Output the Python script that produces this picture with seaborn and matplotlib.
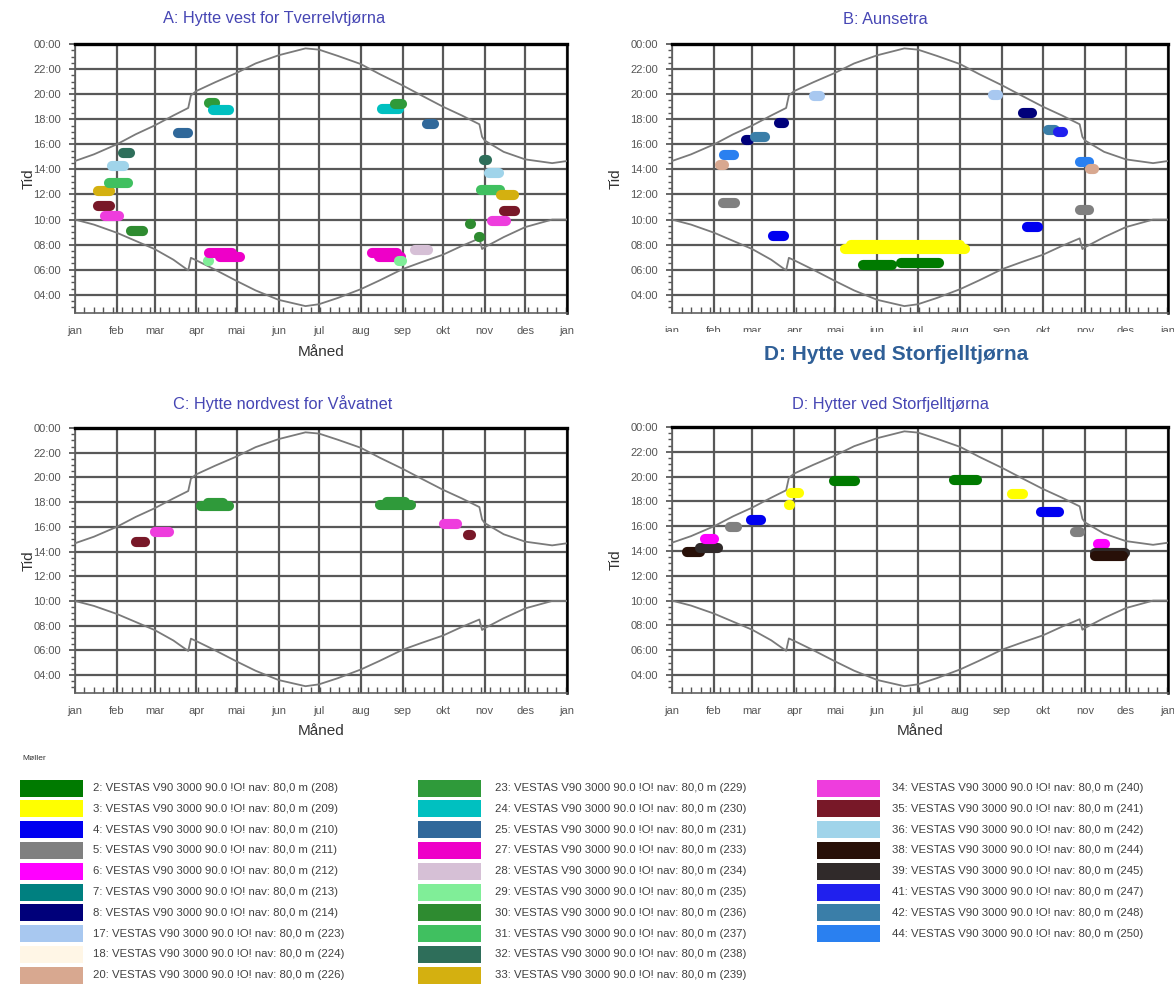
import numpy as np
import pandas as pd
import matplotlib
matplotlib.use('Agg')
import matplotlib.pyplot as plt
import seaborn as sns
from matplotlib.patches import Rectangle
from matplotlib.ticker import MultipleLocator, FuncFormatter

W, H = 1174, 984

# ── data ─────────────────────────────────────────────────────
month_names = ['jan', 'feb', 'mar', 'apr', 'mai', 'jun', 'jul',
               'aug', 'sep', 'okt', 'nov', 'des', 'jan']
month_days = [0, 31, 59, 90, 120, 151, 181, 212, 243, 273, 304, 334, 365]

# sunset / sunrise (day of year, clock hour)
sun_day      = [0, 14, 31, 45, 59, 73, 84, 86, 90, 104, 120, 134, 151, 171, 181,
                195, 212, 226, 243, 257, 273, 287, 300, 302, 304, 318, 334, 354, 365]
sunset_hour  = [14.67, 15.2, 16.0, 16.8, 17.5, 18.3, 18.9, 19.9, 20.25, 20.95, 21.7,
                22.45, 23.1, 23.65, 23.55, 23.05, 22.4, 21.6, 20.7, 19.9, 19.0, 18.3,
                17.6, 16.6, 16.3, 15.4, 14.8, 14.5, 14.67]
sunrise_hour = [10.0, 9.6, 8.95, 8.3, 7.65, 6.8, 5.95, 6.95, 6.75, 6.0, 5.1, 4.35,
                3.6, 3.1, 3.25, 3.75, 4.45, 5.15, 6.05, 6.6, 7.2, 7.9, 8.5, 7.65,
                7.8, 8.6, 9.4, 10.0, 10.0]

turbine_ids = [2, 3, 4, 5, 6, 7, 8, 17, 18, 20,
               23, 24, 25, 27, 28, 29, 30, 31, 32, 33,
               34, 35, 36, 38, 39, 41, 42, 44]
turbine_refs = [208, 209, 210, 211, 212, 213, 214, 223, 224, 226,
                229, 230, 231, 233, 234, 235, 236, 237, 238, 239,
                240, 241, 242, 244, 245, 247, 248, 250]
turbine_colors = ['#007a00', '#ffff00', '#0000f0', '#808080', '#ff00ff', '#008080',
                  '#00007a', '#a8c8f0', '#fff6e6', '#d8a890',
                  '#2f9a3a', '#00c0c0', '#30689a', '#ee00c8', '#d6c0d6', '#80ee98',
                  '#2e8b30', '#40c060', '#2e6e5a', '#d4b010',
                  '#ee3ddd', '#781828', '#a0d4ea', '#281008', '#302a2a', '#2020ee',
                  '#3a7ea8', '#2a80f0']

# shadow periods: (first day, last day, clock hour, turbine)
flicker_a = [(14, 29, 12.3, 33), (14, 29, 11.05, 35), (19, 36, 10.25, 34),
             (24, 40, 14.3, 36), (22, 43, 12.9, 31), (32, 44, 15.3, 32),
             (38, 54, 9.1, 30), (73, 87, 16.9, 25), (78, 84, 7.0, 28),
             (84, 89, 7.8, 28), (96, 107, 19.3, 23), (99, 118, 18.75, 24),
             (95, 103, 6.7, 29), (96, 120, 7.35, 27), (104, 126, 7.0, 27),
             (121, 128, 5.4, 7), (213, 220, 5.5, 7), (217, 242, 7.3, 27),
             (222, 245, 7.0, 27), (237, 246, 6.7, 29), (249, 265, 7.6, 28),
             (224, 244, 18.8, 24), (234, 246, 19.25, 23), (258, 270, 17.65, 25),
             (300, 309, 14.75, 32), (304, 318, 13.75, 36), (298, 319, 12.35, 31),
             (313, 329, 11.95, 33), (315, 330, 10.7, 35), (306, 323, 9.9, 34),
             (290, 297, 9.65, 30), (296, 304, 8.65, 30)]

flicker_b = [(35, 49, 15.15, 44), (32, 42, 14.35, 20), (34, 50, 11.3, 5),
             (51, 60, 16.35, 8), (58, 72, 16.55, 42), (75, 86, 17.7, 8),
             (84, 90, 18.75, 8), (101, 112, 19.85, 17), (71, 86, 8.7, 4),
             (124, 219, 7.65, 3), (128, 215, 7.95, 3), (137, 165, 6.36, 2),
             (165, 200, 6.5, 2), (233, 243, 19.9, 17), (255, 268, 18.5, 8),
             (273, 285, 17.18, 42), (281, 291, 16.97, 41), (258, 273, 9.44, 4),
             (297, 310, 14.6, 44), (304, 314, 14.0, 20), (294, 297, 11.82, 5),
             (297, 310, 10.8, 5)]

flicker_c = [(42, 55, 14.8, 35), (56, 73, 15.6, 34), (90, 118, 17.7, 23),
             (95, 113, 17.95, 23), (223, 253, 17.8, 23), (228, 248, 17.98, 23),
             (270, 287, 16.2, 34), (288, 297, 15.35, 35), (295, 300, 14.3, 35)]

flicker_d = [(8, 24, 13.93, 38), (17, 37, 14.25, 39), (21, 34, 14.98, 6),
             (39, 51, 15.95, 5), (55, 69, 16.54, 4), (84, 97, 18.68, 3),
             (83, 90, 17.74, 3), (116, 138, 19.62, 2), (204, 228, 19.76, 2),
             (247, 262, 18.6, 3), (268, 288, 17.15, 4), (290, 296, 16.48, 5),
             (293, 304, 15.52, 5), (310, 322, 14.6, 6), (308, 337, 13.82, 39),
             (308, 335, 13.62, 38)]

color_of = dict(zip(turbine_ids, turbine_colors))

n = len(sun_day)
sun_df = pd.DataFrame({
    'dag': sun_day * 2,
    'tid': sunset_hour + sunrise_hour,
    'kurve': ['ned'] * n + ['opp'] * n,
})

# ── figure ───────────────────────────────────────────────────
sns.set_theme(style='white')
plt.rcParams['font.family'] = ['Liberation Sans', 'DejaVu Sans']

fig = plt.figure(figsize=(W / 100, H / 100), dpi=100)
fig.patch.set_facecolor('white')


def px_axes(x0, y0, x1, y1):
    return fig.add_axes([x0 / W, 1 - y1 / H, (x1 - x0) / W, (y1 - y0) / H])


def draw_panel(ax, blobs, xlabel=True, ylab_x=-0.1):
    sns.lineplot(data=sun_df, x='dag', y='tid', units='kurve', estimator=None,
                 color='#7a7a7a', lw=1.3, ax=ax, legend=False, zorder=3)
    for d0, d1, hour, tid in blobs:
        pad = min(3.4, (d1 - d0) / 2)
        ax.plot([d0 + pad, d1 - pad], [hour, hour], color=color_of[tid], lw=7.3,
                solid_capstyle='round', zorder=4)

    ax.set_xlim(0, 365)
    ax.set_ylim(2.55, 24)
    ax.set_xticks(month_days)
    ax.set_xticklabels(month_names)
    ax.set_yticks(range(4, 25, 2))
    ax.yaxis.set_major_formatter(FuncFormatter(lambda v, p: f"{int(round(v)) % 24:02d}:00"))
    ax.xaxis.set_minor_locator(MultipleLocator(7))
    ax.yaxis.set_minor_locator(MultipleLocator(0.5))

    ax.grid(True, which='major', color='#585858', lw=1.6)
    ax.set_axisbelow(True)
    ax.tick_params(axis='x', which='both', bottom=True, direction='in',
                   labelsize=8, labelcolor='#555555', color='#555555', pad=9)
    ax.tick_params(axis='x', which='major', length=5)
    ax.tick_params(axis='x', which='minor', length=4)
    ax.tick_params(axis='y', which='both', left=True, direction='out',
                   labelsize=8, labelcolor='#555555', color='#555555', pad=6)
    ax.tick_params(axis='y', which='major', length=4)
    ax.tick_params(axis='y', which='minor', length=3)

    ax.spines['top'].set_color('black')
    ax.spines['top'].set_linewidth(2.4)
    ax.spines['right'].set_color('black')
    ax.spines['right'].set_linewidth(1.8)
    for s in ['left', 'bottom']:
        ax.spines[s].set_color('#606060')
        ax.spines[s].set_linewidth(1.2)

    ax.set_ylabel('Tid', fontsize=11, color='#333333')
    ax.yaxis.set_label_coords(ylab_x, 0.5)
    if xlabel:
        ax.set_xlabel('Måned', fontsize=11, color='#333333')
        ax.xaxis.set_label_coords(0.5, -0.118)
    else:
        ax.set_xlabel('')


ax_a = px_axes(75, 44, 567, 313)
ax_b = px_axes(672, 44, 1168, 313)
ax_c = px_axes(75, 428, 567, 693)
ax_d = px_axes(672, 427, 1168, 693)

draw_panel(ax_a, flicker_a, ylab_x=-0.08)
draw_panel(ax_b, flicker_b, xlabel=False, ylab_x=-0.1)
draw_panel(ax_c, flicker_c, ylab_x=-0.08)
draw_panel(ax_d, flicker_d, ylab_x=-0.1)

title_color = '#4646b4'
fig.text(274 / W, 1 - 19 / H, 'A: Hytte vest for Tverrelvtjørna', ha='center', va='center',
         fontsize=11.8, color=title_color)
fig.text(885 / W, 1 - 19 / H, 'B: Aunsetra', ha='center', va='center',
         fontsize=11.8, color=title_color)
fig.text(283 / W, 1 - 404 / H, 'C: Hytte nordvest for Våvatnet', ha='center', va='center',
         fontsize=11.8, color=title_color)
fig.text(890 / W, 1 - 404 / H, 'D: Hytter ved Storfjelltjørna', ha='center', va='center',
         fontsize=11.8, color=title_color)

# document heading laid over the bottom of panel B
fig.add_artist(Rectangle((595 / W, 1 - 385 / H), (W - 595) / W, (385 - 332) / H,
                         transform=fig.transFigure, facecolor='white', edgecolor='none',
                         zorder=10))
fig.text(896 / W, 1 - 354 / H, 'D: Hytte ved Storfjelltjørna', ha='center', va='center',
         fontsize=15, fontweight='bold', color='#2f5f97', zorder=11)

# ── legend ───────────────────────────────────────────────────
fig.text(22 / W, 1 - 758 / H, 'Møller', ha='left', va='center', fontsize=6, color='#333333')
col_patch_x = [20, 418, 817]
col_text_x = [93, 495, 892]
col_start = [0, 10, 20, 28]
for c in range(3):
    for r, i in enumerate(range(col_start[c], col_start[c + 1])):
        yc = 788 + 20.8 * r
        fig.add_artist(Rectangle((col_patch_x[c] / W, 1 - (yc + 8.5) / H), 63 / W, 17 / H,
                                 transform=fig.transFigure,
                                 facecolor=turbine_colors[i], edgecolor='none'))
        label = f"{turbine_ids[i]}: VESTAS V90 3000 90.0 !O! nav: 80,0 m ({turbine_refs[i]})"
        fig.text(col_text_x[c] / W, 1 - yc / H, label, ha='left', va='center',
                 fontsize=8.2, color='#404040')

fig.savefig('out.png', dpi=100)
plt.close()
